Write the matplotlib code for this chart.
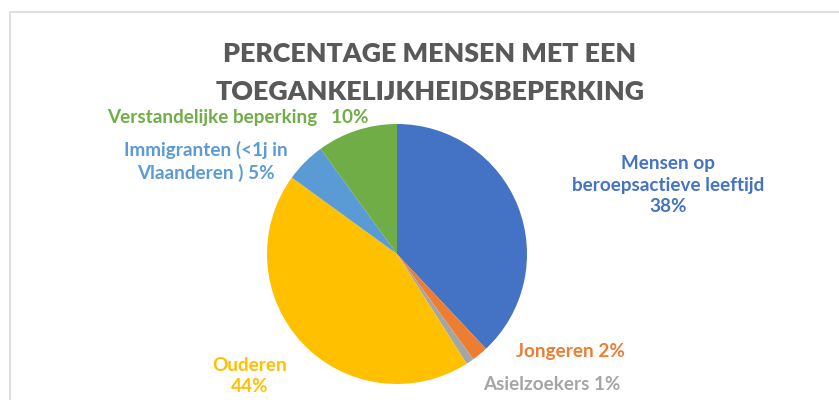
import matplotlib.pyplot as plt
from matplotlib.patches import Rectangle

# data, clockwise from 12 o'clock
names = ["Mensen op\nberoepsactieve leeftijd", "Jongeren", "Asielzoekers",
         "Ouderen", "Immigranten (<1j in\nVlaanderen )", "Verstandelijke beperking  "]
values = [38, 2, 1, 44, 5, 10]
colors = ["#4472C4", "#ED7D31", "#A5A5A5", "#FFC000", "#5B9BD5", "#70AD47"]
title = "PERCENTAGE MENSEN MET EEN\nTOEGANKELIJKHEIDSBEPERKING"

plt.rcParams["font.family"] = ["Lato", "DejaVu Sans"]

W, H = 839, 400
fig = plt.figure(figsize=(W / 100, H / 100), dpi=100)
ax = fig.add_axes([0, 0, 1, 1])

# chart area border (only left and top edge visible)
ax.add_patch(Rectangle((10, -20), 860, H - 12 + 20, fill=False,
                       edgecolor="#D9D9D9", lw=1.2))

cx, cy, r = 397, H - 254, 130
ax.pie(values, colors=colors, startangle=90, counterclock=False,
       center=(cx, cy), radius=r, wedgeprops=dict(linewidth=0))

ax.set_xlim(0, W)
ax.set_ylim(0, H)
ax.set_aspect("equal")
ax.axis("off")

ax.text(430, H - 73, title, ha="center", va="center", fontsize=19.3,
        fontweight="heavy", color="#595959", linespacing=1.7)

# label positions (pixel coords from top-left) and text layout
label_pos = [(668, 185, "center"), (516, 351, "left"), (483, 384, "left"),
             (250, 376, "center"), (206, 161, "center"), (107, 118, "left")]
for name, v, c, (x, y, ha) in zip(names, values, colors, label_pos):
    if name.startswith("Mensen") or name.startswith("Ouderen"):
        s = f"{name}\n{v}%"
    else:
        s = f"{name} {v}%"
    ax.text(x, H - y, s, ha=ha, va="center", fontsize=13.6, fontweight="bold",
            color=c, linespacing=1.32, multialignment="center")

fig.savefig("out.png", dpi=100)
